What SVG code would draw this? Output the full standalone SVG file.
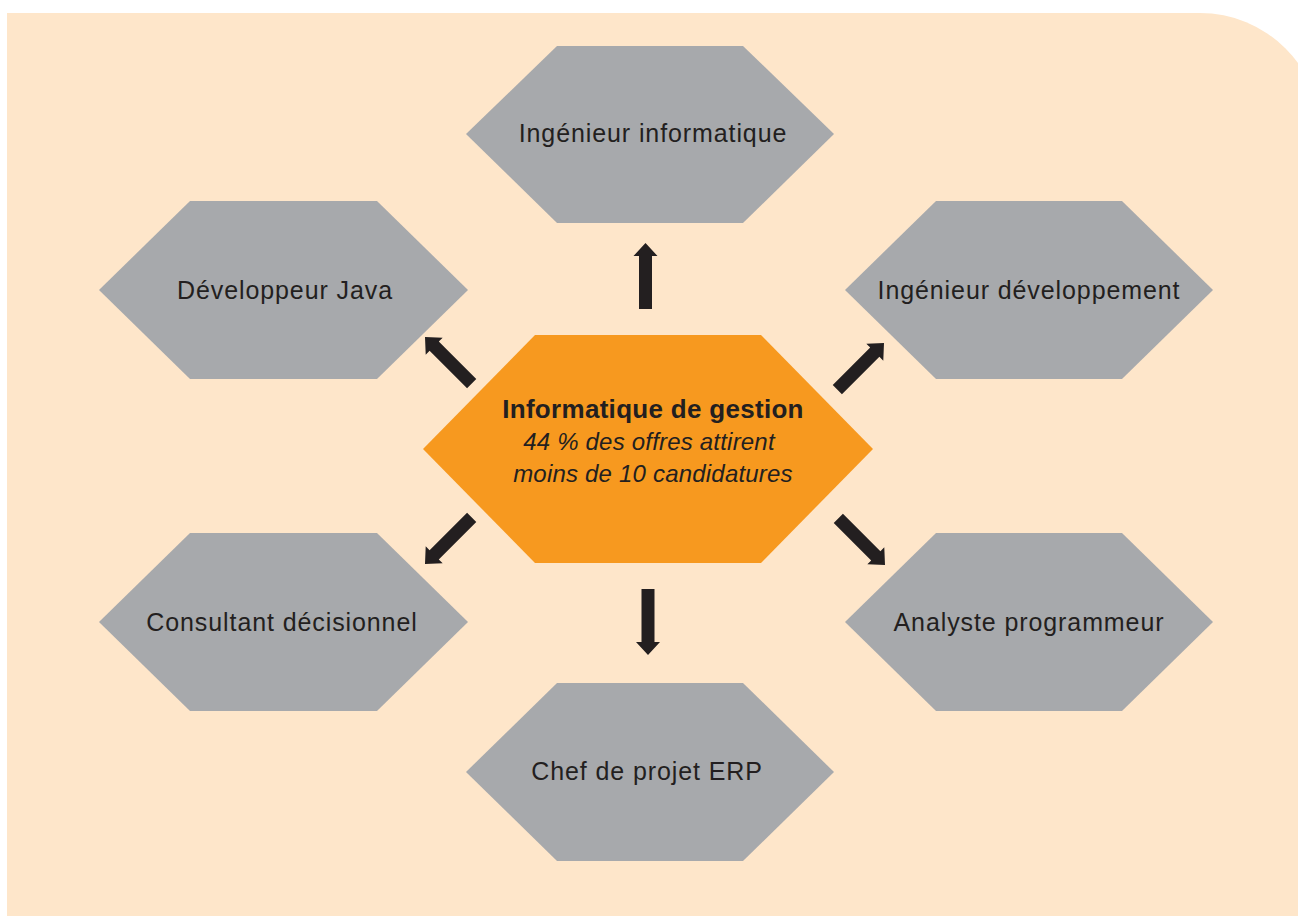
<svg xmlns="http://www.w3.org/2000/svg" width="1298" height="916" viewBox="0 0 1298 916">
<defs>
<style>
.bg{fill:#FEE6CA}
.hex{fill:#A7A9AC}
.core{fill:#F7991F}
.lbl{font-family:"Liberation Sans","DejaVu Sans",sans-serif;font-size:25px;letter-spacing:0.9px;fill:#231F20;text-anchor:middle}
.b{font-weight:bold;font-size:26px;letter-spacing:0.3px}
.i{font-style:italic;font-size:24px;letter-spacing:0.2px}
.arr{fill:#231F20}
</style>
<path id="arrow" d="M0,0 L12,13 L6.5,13 L6.5,66 L-6.5,66 L-6.5,13 L-12,13 Z"/>
</defs>
<rect width="1298" height="916" fill="#FFFFFF"/>
<path class="bg" d="M7,13 H1200 A121,121 0 0 1 1321,134 V916 H7 Z"/>

<g id="node-center">
<polygon class="core" points="423,449 535,335 761,335 873,449 761,563 535,563"/>
<text class="lbl b" x="653" y="418">Informatique de gestion</text>
<text class="lbl i" x="649" y="450">44 % des offres attirent</text>
<text class="lbl i" x="653" y="482">moins de 10 candidatures</text>
</g>

<g id="node-ingenieur-informatique">
<polygon class="hex" points="466,134 557,46 743,46 834,134 743,223 557,223"/>
<text class="lbl" x="653" y="142">Ingénieur informatique</text>
</g>

<g id="node-developpeur-java">
<polygon class="hex" points="99,290 190,201 377,201 468,290 377,379 190,379"/>
<text class="lbl" x="285" y="299">Développeur Java</text>
</g>

<g id="node-ingenieur-developpement">
<polygon class="hex" points="845,290 936,201 1122,201 1213,290 1122,379 936,379"/>
<text class="lbl" x="1029" y="299">Ingénieur développement</text>
</g>

<g id="node-consultant-decisionnel">
<polygon class="hex" points="99,622 190,533 377,533 468,622 377,711 190,711"/>
<text class="lbl" x="282" y="631">Consultant décisionnel</text>
</g>

<g id="node-analyste-programmeur">
<polygon class="hex" points="845,622 936,533 1122,533 1213,622 1122,711 936,711"/>
<text class="lbl" x="1029" y="631">Analyste programmeur</text>
</g>

<g id="node-chef-de-projet-erp">
<polygon class="hex" points="466,772 557,683 743,683 834,772 743,861 557,861"/>
<text class="lbl" x="647" y="780">Chef de projet ERP</text>
</g>

<g id="connectors" class="arr">
<use href="#arrow" transform="translate(645.5,243)"/>
<use href="#arrow" transform="translate(648,655) rotate(180)"/>
<use href="#arrow" transform="translate(425,337) rotate(-45)"/>
<use href="#arrow" transform="translate(884,343) rotate(45)"/>
<use href="#arrow" transform="translate(885,565) rotate(135)"/>
<use href="#arrow" transform="translate(425,564) rotate(-135)"/>
</g>
</svg>
